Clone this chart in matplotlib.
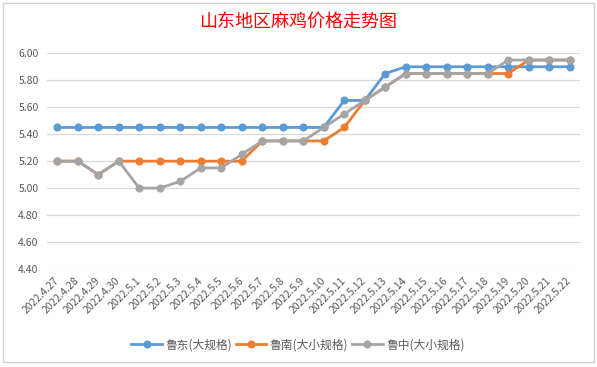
import matplotlib
matplotlib.use("Agg")
import matplotlib.pyplot as plt
from matplotlib.patches import Rectangle

plt.rcParams['font.family'] = ['Noto Sans CJK SC', 'DejaVu Sans']

dates = ["2022.4.27", "2022.4.28", "2022.4.29", "2022.4.30", "2022.5.1", "2022.5.2",
         "2022.5.3", "2022.5.4", "2022.5.5", "2022.5.6", "2022.5.7", "2022.5.8",
         "2022.5.9", "2022.5.10", "2022.5.11", "2022.5.12", "2022.5.13", "2022.5.14",
         "2022.5.15", "2022.5.16", "2022.5.17", "2022.5.18", "2022.5.19", "2022.5.20",
         "2022.5.21", "2022.5.22"]
ludong = [5.45, 5.45, 5.45, 5.45, 5.45, 5.45, 5.45, 5.45, 5.45, 5.45, 5.45, 5.45,
          5.45, 5.45, 5.65, 5.65, 5.85, 5.90, 5.90, 5.90, 5.90, 5.90, 5.90, 5.90,
          5.90, 5.90]
lunan = [5.20, 5.20, 5.10, 5.20, 5.20, 5.20, 5.20, 5.20, 5.20, 5.20, 5.35, 5.35,
         5.35, 5.35, 5.45, 5.65, 5.75, 5.85, 5.85, 5.85, 5.85, 5.85, 5.85, 5.95,
         5.95, 5.95]
luzhong = [5.20, 5.20, 5.10, 5.20, 5.00, 5.00, 5.05, 5.15, 5.15, 5.25, 5.35, 5.35,
           5.35, 5.45, 5.55, 5.65, 5.75, 5.85, 5.85, 5.85, 5.85, 5.85, 5.95, 5.95,
           5.95, 5.95]
series_names = ["鲁东(大规格)", "鲁南(大小规格)", "鲁中(大小规格)"]
yticks = [4.40, 4.60, 4.80, 5.00, 5.20, 5.40, 5.60, 5.80, 6.00]
title = "山东地区麻鸡价格走势图"

colors = ["#5B9BD5", "#ED7D31", "#A5A5A5"]
txt = "#595959"

W, H = 597, 367
fig = plt.figure(figsize=(W / 100, H / 100), dpi=100)
fig.patch.set_facecolor("white")

# chart border
fig.add_artist(Rectangle((3 / W, 1 - 362 / H), (594 - 3) / W, (362 - 3) / H,
                         transform=fig.transFigure, fill=False,
                         edgecolor="#D0D0D8", linewidth=1.0))

ax = fig.add_axes([47 / W, 1 - 269 / H, (580 - 47) / W, (269 - 53.3) / H])
x = list(range(len(dates)))
for vals, c, name in zip([ludong, lunan, luzhong], colors, series_names):
    ax.plot(x, vals, color=c, linewidth=2.0, marker="o", markersize=4.8,
            markeredgecolor=c, markerfacecolor=c, label=name, zorder=3)

ax.set_xlim(-0.5, len(dates) - 0.5)
ax.set_ylim(4.40, 6.00)
ax.set_yticks(yticks)
ax.set_yticklabels([f"{v:.2f}" for v in yticks], color=txt, fontsize=7.5)
ax.set_xticks(x)
ax.set_xticklabels(dates, rotation=45, ha="right", va="center",
                   rotation_mode="anchor", color=txt, fontsize=7.5)
ax.tick_params(axis="y", length=0, pad=6)
ax.tick_params(axis="x", length=0, pad=7)
ax.grid(axis="y", color="#D9D9D9", linewidth=0.9)
ax.set_axisbelow(True)
for s in ax.spines.values():
    s.set_visible(False)

fig.text(0.5, 1 - 22 / H, title, color="red", fontsize=13, ha="center",
         va="center")

fig.legend(loc="center", bbox_to_anchor=(298 / W, 1 - 345 / H), ncol=3,
           frameon=False, fontsize=8.5, labelcolor=txt, handlelength=2.6,
           columnspacing=0.3, handletextpad=0.3)

fig.savefig("out.png", dpi=100, facecolor="white")
